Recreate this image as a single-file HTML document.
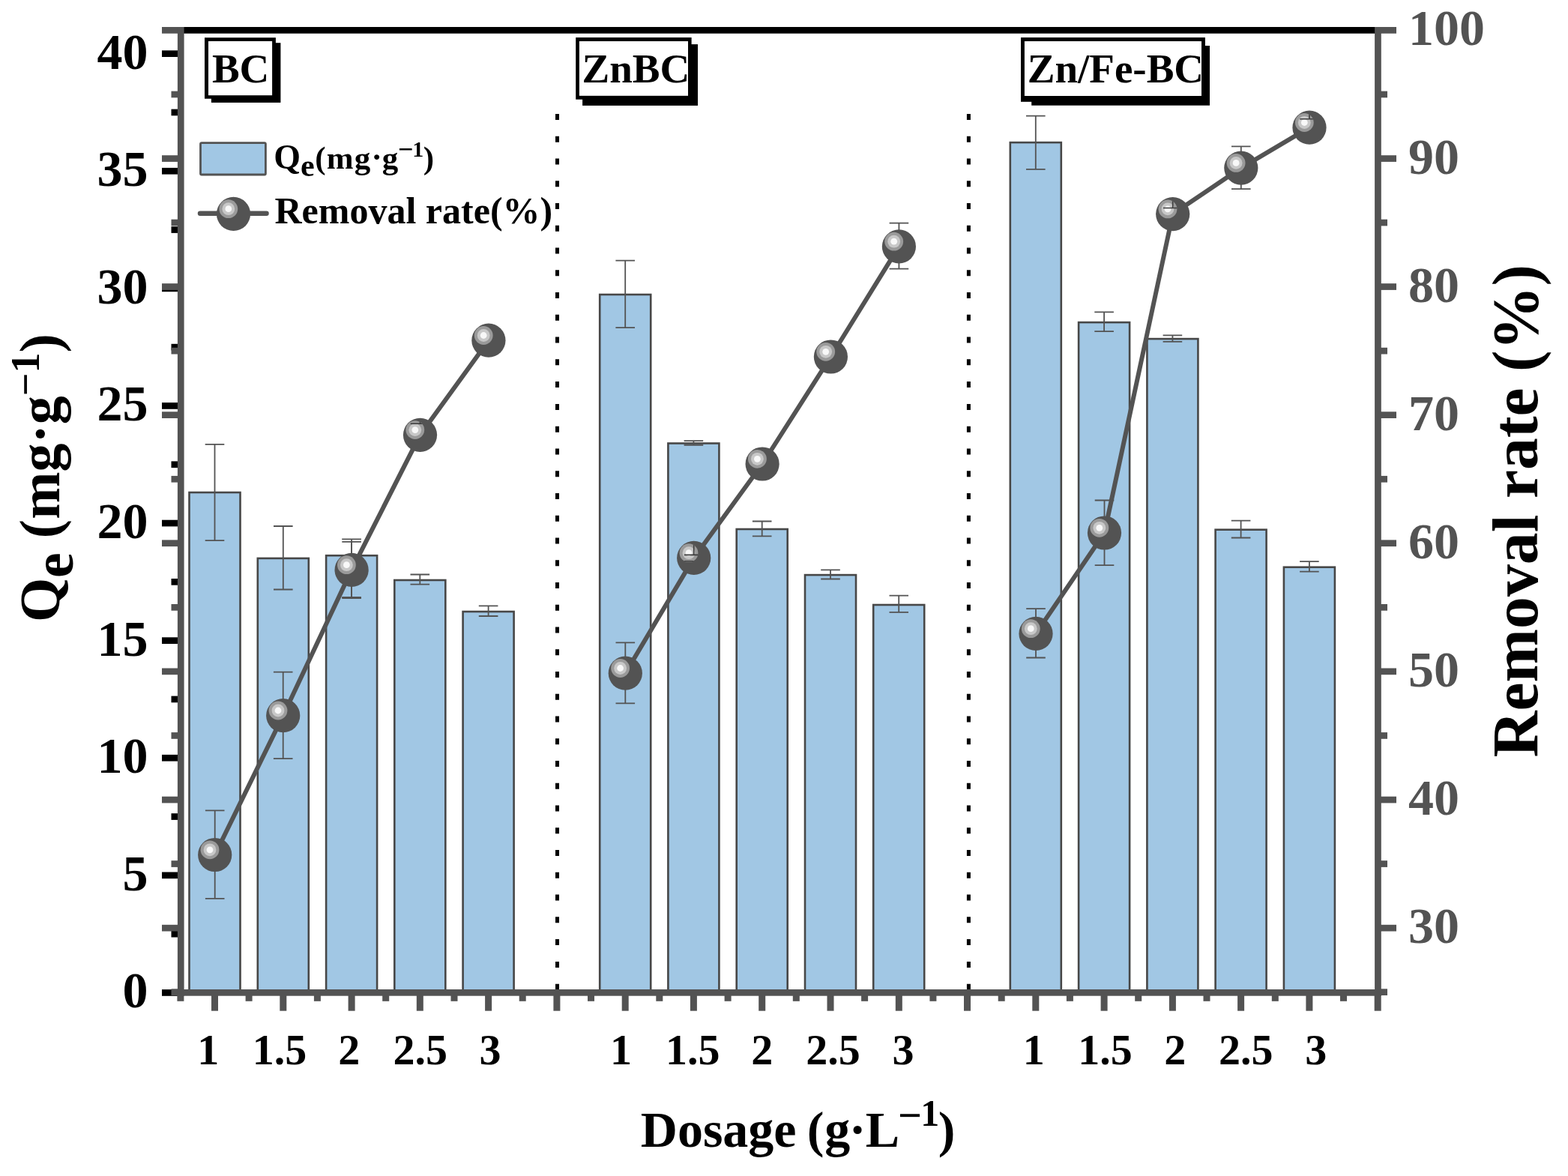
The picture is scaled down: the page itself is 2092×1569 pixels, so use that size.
<!DOCTYPE html>
<html><head><meta charset="utf-8"><title>Qe and removal rate vs dosage</title>
<style>html,body{margin:0;padding:0;background:#fff;}svg{display:block;}</style>
</head><body>
<svg width="2092" height="1569" viewBox="0 0 2092 1569">
<rect width="2092" height="1569" fill="#fff"/>
<rect x="252.5" y="657.0" width="68.0" height="667.0" fill="#A1C7E4" stroke="#474747" stroke-width="2.6"/>
<rect x="343.8" y="744.9" width="68.0" height="579.1" fill="#A1C7E4" stroke="#474747" stroke-width="2.6"/>
<rect x="435.1" y="741.2" width="68.0" height="582.8" fill="#A1C7E4" stroke="#474747" stroke-width="2.6"/>
<rect x="526.3" y="774.0" width="68.0" height="550.0" fill="#A1C7E4" stroke="#474747" stroke-width="2.6"/>
<rect x="617.6" y="816.0" width="68.0" height="508.0" fill="#A1C7E4" stroke="#474747" stroke-width="2.6"/>
<rect x="800.2" y="393.0" width="68.0" height="931.0" fill="#A1C7E4" stroke="#474747" stroke-width="2.6"/>
<rect x="891.4" y="591.5" width="68.0" height="732.5" fill="#A1C7E4" stroke="#474747" stroke-width="2.6"/>
<rect x="982.7" y="706.0" width="68.0" height="618.0" fill="#A1C7E4" stroke="#474747" stroke-width="2.6"/>
<rect x="1074.0" y="767.1" width="68.0" height="556.9" fill="#A1C7E4" stroke="#474747" stroke-width="2.6"/>
<rect x="1165.2" y="807.0" width="68.0" height="517.0" fill="#A1C7E4" stroke="#474747" stroke-width="2.6"/>
<rect x="1347.8" y="190.1" width="68.0" height="1133.9" fill="#A1C7E4" stroke="#474747" stroke-width="2.6"/>
<rect x="1439.1" y="430.1" width="68.0" height="893.9" fill="#A1C7E4" stroke="#474747" stroke-width="2.6"/>
<rect x="1530.4" y="452.1" width="68.0" height="871.9" fill="#A1C7E4" stroke="#474747" stroke-width="2.6"/>
<rect x="1621.6" y="706.7" width="68.0" height="617.3" fill="#A1C7E4" stroke="#474747" stroke-width="2.6"/>
<rect x="1712.9" y="756.7" width="68.0" height="567.3" fill="#A1C7E4" stroke="#474747" stroke-width="2.6"/>
<path d="M273.7 592.8H299.3M286.5 592.8V721.1M273.7 721.1H299.3" stroke="#535353" stroke-width="1.8" fill="none"/>
<path d="M365.0 702.0H390.6M377.8 702.0V786.5M365.0 786.5H390.6" stroke="#535353" stroke-width="1.8" fill="none"/>
<path d="M456.2 719.3H481.9M469.1 719.3V797.0M456.2 797.0H481.9" stroke="#535353" stroke-width="1.8" fill="none"/>
<path d="M547.5 766.5H573.1M560.3 766.5V779.6M547.5 779.6H573.1" stroke="#535353" stroke-width="1.8" fill="none"/>
<path d="M638.8 808.3H664.4M651.6 808.3V822.0M638.8 822.0H664.4" stroke="#535353" stroke-width="1.8" fill="none"/>
<path d="M821.4 347.7H847.0M834.2 347.7V437.2M821.4 437.2H847.0" stroke="#535353" stroke-width="1.8" fill="none"/>
<path d="M912.6 588.2H938.2M925.4 588.2V593.9M912.6 593.9H938.2" stroke="#535353" stroke-width="1.8" fill="none"/>
<path d="M1003.9 695.5H1029.5M1016.7 695.5V715.4M1003.9 715.4H1029.5" stroke="#535353" stroke-width="1.8" fill="none"/>
<path d="M1095.2 760.4H1120.8M1108.0 760.4V772.5M1095.2 772.5H1120.8" stroke="#535353" stroke-width="1.8" fill="none"/>
<path d="M1186.5 794.6H1212.0M1199.2 794.6V816.9M1186.5 816.9H1212.0" stroke="#535353" stroke-width="1.8" fill="none"/>
<path d="M1369.0 154.6H1394.6M1381.8 154.6V225.9M1369.0 225.9H1394.6" stroke="#535353" stroke-width="1.8" fill="none"/>
<path d="M1460.3 416.4H1485.9M1473.1 416.4V442.1M1460.3 442.1H1485.9" stroke="#535353" stroke-width="1.8" fill="none"/>
<path d="M1551.6 447.3H1577.2M1564.4 447.3V455.8M1551.6 455.8H1577.2" stroke="#535353" stroke-width="1.8" fill="none"/>
<path d="M1642.8 694.6H1668.4M1655.6 694.6V717.5M1642.8 717.5H1668.4" stroke="#535353" stroke-width="1.8" fill="none"/>
<path d="M1734.1 749.2H1759.7M1746.9 749.2V762.7M1734.1 762.7H1759.7" stroke="#535353" stroke-width="1.8" fill="none"/>
<line x1="743.5" y1="152" x2="743.5" y2="1322" stroke="#000" stroke-width="5" stroke-dasharray="8 21.76"/>
<line x1="1292.4" y1="152" x2="1292.4" y2="1322" stroke="#000" stroke-width="5" stroke-dasharray="8 21.76"/>
<path d="M273.9 1081.4H299.5M286.7 1081.4V1198.9M273.9 1198.9H299.5" stroke="#535353" stroke-width="1.8" fill="none"/>
<path d="M364.9 896.7H390.5M377.7 896.7V1012.1M364.9 1012.1H390.5" stroke="#535353" stroke-width="1.8" fill="none"/>
<path d="M456.3 722.8H481.9M469.1 722.8V798.0M456.3 798.0H481.9" stroke="#535353" stroke-width="1.8" fill="none"/>
<path d="M821.5 857.3H847.1M834.3 857.3V938.4M821.5 938.4H847.1" stroke="#535353" stroke-width="1.8" fill="none"/>
<path d="M1186.6 297.7H1212.2M1199.4 297.7V358.7M1186.6 358.7H1212.2" stroke="#535353" stroke-width="1.8" fill="none"/>
<path d="M1369.2 812.1H1394.8M1382.0 812.1V877.5M1369.2 877.5H1394.8" stroke="#535353" stroke-width="1.8" fill="none"/>
<path d="M1460.7 667.5H1486.3M1473.5 667.5V754.2M1460.7 754.2H1486.3" stroke="#535353" stroke-width="1.8" fill="none"/>
<path d="M1643.0 195.4H1668.6M1655.8 195.4V252.1M1643.0 252.1H1668.6" stroke="#535353" stroke-width="1.8" fill="none"/>
<path d="M286.7 1140.5 L377.7 954.7 L469.1 760.4 L560.5 580.3 L651.9 454.2" stroke="#535353" stroke-width="6" fill="none" stroke-linejoin="round"/>
<path d="M834.3 898.2 L925.7 744.4 L1017.1 619 L1108.4 476 L1199.4 328.9" stroke="#535353" stroke-width="6" fill="none" stroke-linejoin="round"/>
<path d="M1382 845.4 L1473.5 711 L1564.7 285.6 L1655.8 224.1 L1747 170.2" stroke="#535353" stroke-width="6" fill="none" stroke-linejoin="round"/>
<circle cx="286.7" cy="1140.5" r="22.6" fill="#535353"/><circle cx="280.0" cy="1133.8" r="12.4" fill="#9a9a9a"/><circle cx="280.0" cy="1133.8" r="8.4" fill="#c8c8c8"/><circle cx="280.0" cy="1133.8" r="4.4" fill="#f8f8f8"/>
<circle cx="377.7" cy="954.7" r="22.6" fill="#535353"/><circle cx="371.0" cy="948.0" r="12.4" fill="#9a9a9a"/><circle cx="371.0" cy="948.0" r="8.4" fill="#c8c8c8"/><circle cx="371.0" cy="948.0" r="4.4" fill="#f8f8f8"/>
<circle cx="469.1" cy="760.4" r="22.6" fill="#535353"/><circle cx="462.4" cy="753.7" r="12.4" fill="#9a9a9a"/><circle cx="462.4" cy="753.7" r="8.4" fill="#c8c8c8"/><circle cx="462.4" cy="753.7" r="4.4" fill="#f8f8f8"/>
<circle cx="560.5" cy="580.3" r="22.6" fill="#535353"/><circle cx="553.8" cy="573.6" r="12.4" fill="#9a9a9a"/><circle cx="553.8" cy="573.6" r="8.4" fill="#c8c8c8"/><circle cx="553.8" cy="573.6" r="4.4" fill="#f8f8f8"/>
<circle cx="651.9" cy="454.2" r="22.6" fill="#535353"/><circle cx="645.2" cy="447.5" r="12.4" fill="#9a9a9a"/><circle cx="645.2" cy="447.5" r="8.4" fill="#c8c8c8"/><circle cx="645.2" cy="447.5" r="4.4" fill="#f8f8f8"/>
<circle cx="834.3" cy="898.2" r="22.6" fill="#535353"/><circle cx="827.6" cy="891.5" r="12.4" fill="#9a9a9a"/><circle cx="827.6" cy="891.5" r="8.4" fill="#c8c8c8"/><circle cx="827.6" cy="891.5" r="4.4" fill="#f8f8f8"/>
<circle cx="925.7" cy="744.4" r="22.6" fill="#535353"/><circle cx="919.0" cy="737.7" r="12.4" fill="#9a9a9a"/><circle cx="919.0" cy="737.7" r="8.4" fill="#c8c8c8"/><circle cx="919.0" cy="737.7" r="4.4" fill="#f8f8f8"/>
<circle cx="1017.1" cy="619" r="22.6" fill="#535353"/><circle cx="1010.4" cy="612.3" r="12.4" fill="#9a9a9a"/><circle cx="1010.4" cy="612.3" r="8.4" fill="#c8c8c8"/><circle cx="1010.4" cy="612.3" r="4.4" fill="#f8f8f8"/>
<circle cx="1108.4" cy="476" r="22.6" fill="#535353"/><circle cx="1101.7" cy="469.3" r="12.4" fill="#9a9a9a"/><circle cx="1101.7" cy="469.3" r="8.4" fill="#c8c8c8"/><circle cx="1101.7" cy="469.3" r="4.4" fill="#f8f8f8"/>
<circle cx="1199.4" cy="328.9" r="22.6" fill="#535353"/><circle cx="1192.7" cy="322.2" r="12.4" fill="#9a9a9a"/><circle cx="1192.7" cy="322.2" r="8.4" fill="#c8c8c8"/><circle cx="1192.7" cy="322.2" r="4.4" fill="#f8f8f8"/>
<circle cx="1382" cy="845.4" r="22.6" fill="#535353"/><circle cx="1375.3" cy="838.7" r="12.4" fill="#9a9a9a"/><circle cx="1375.3" cy="838.7" r="8.4" fill="#c8c8c8"/><circle cx="1375.3" cy="838.7" r="4.4" fill="#f8f8f8"/>
<circle cx="1473.5" cy="711" r="22.6" fill="#535353"/><circle cx="1466.8" cy="704.3" r="12.4" fill="#9a9a9a"/><circle cx="1466.8" cy="704.3" r="8.4" fill="#c8c8c8"/><circle cx="1466.8" cy="704.3" r="4.4" fill="#f8f8f8"/>
<circle cx="1564.7" cy="285.6" r="22.6" fill="#535353"/><circle cx="1558.0" cy="278.9" r="12.4" fill="#9a9a9a"/><circle cx="1558.0" cy="278.9" r="8.4" fill="#c8c8c8"/><circle cx="1558.0" cy="278.9" r="4.4" fill="#f8f8f8"/>
<circle cx="1655.8" cy="224.1" r="22.6" fill="#535353"/><circle cx="1649.1" cy="217.4" r="12.4" fill="#9a9a9a"/><circle cx="1649.1" cy="217.4" r="8.4" fill="#c8c8c8"/><circle cx="1649.1" cy="217.4" r="4.4" fill="#f8f8f8"/>
<circle cx="1747" cy="170.2" r="22.6" fill="#535353"/><circle cx="1740.3" cy="163.5" r="12.4" fill="#9a9a9a"/><circle cx="1740.3" cy="163.5" r="8.4" fill="#c8c8c8"/><circle cx="1740.3" cy="163.5" r="4.4" fill="#f8f8f8"/>
<defs><clipPath id="hl0"><circle cx="553.8" cy="573.6" r="12.4"/></clipPath><clipPath id="hl1"><circle cx="919.0" cy="737.7" r="12.4"/></clipPath><clipPath id="hl2"><circle cx="1558.0" cy="278.9" r="12.4"/></clipPath><clipPath id="hl3"><circle cx="1740.3" cy="163.5" r="12.4"/></clipPath></defs>
<path d="M547.7 565.2H573.3M560.5 565.2V560.6" stroke="#3c3c3c" stroke-width="1.6" fill="none" clip-path="url(#hl0)"/>
<path d="M912.9 740.4H938.5M925.7 740.4V724.7M912.9 748.8H938.5" stroke="#3c3c3c" stroke-width="1.6" fill="none" clip-path="url(#hl1)"/>
<path d="M1551.9 277.5H1577.5M1564.7 277.5V265.9" stroke="#3c3c3c" stroke-width="1.6" fill="none" clip-path="url(#hl2)"/>
<path d="M1734.2 158.8H1759.8M1747 158.8V150.5" stroke="#3c3c3c" stroke-width="1.6" fill="none" clip-path="url(#hl3)"/>
<rect x="216" y="1320.1" width="22" height="8.7" fill="#000"/>
<rect x="216" y="1163.5" width="22" height="8.7" fill="#000"/>
<rect x="216" y="1006.9" width="22" height="8.7" fill="#000"/>
<rect x="216" y="850.3" width="22" height="8.7" fill="#000"/>
<rect x="216" y="693.7" width="22" height="8.7" fill="#000"/>
<rect x="216" y="537.1" width="22" height="8.7" fill="#000"/>
<rect x="216" y="380.5" width="22" height="8.7" fill="#000"/>
<rect x="216" y="223.9" width="22" height="8.7" fill="#000"/>
<rect x="216" y="67.3" width="22" height="8.7" fill="#000"/>
<rect x="228.5" y="1241.8" width="9.5" height="8.7" fill="#000"/>
<rect x="228.5" y="1085.2" width="9.5" height="8.7" fill="#000"/>
<rect x="228.5" y="928.6" width="9.5" height="8.7" fill="#000"/>
<rect x="228.5" y="772.0" width="9.5" height="8.7" fill="#000"/>
<rect x="228.5" y="615.4" width="9.5" height="8.7" fill="#000"/>
<rect x="228.5" y="458.8" width="9.5" height="8.7" fill="#000"/>
<rect x="228.5" y="302.2" width="9.5" height="8.7" fill="#000"/>
<rect x="228.5" y="145.6" width="9.5" height="8.7" fill="#000"/>
<rect x="216" y="1233.8" width="22" height="8.7" fill="#535353"/>
<rect x="1842" y="1233.8" width="21" height="8.7" fill="#535353"/>
<rect x="216" y="1062.7" width="22" height="8.7" fill="#535353"/>
<rect x="1842" y="1062.7" width="21" height="8.7" fill="#535353"/>
<rect x="216" y="891.5" width="22" height="8.7" fill="#535353"/>
<rect x="1842" y="891.5" width="21" height="8.7" fill="#535353"/>
<rect x="216" y="720.4" width="22" height="8.7" fill="#535353"/>
<rect x="1842" y="720.4" width="21" height="8.7" fill="#535353"/>
<rect x="216" y="549.3" width="22" height="8.7" fill="#535353"/>
<rect x="1842" y="549.3" width="21" height="8.7" fill="#535353"/>
<rect x="216" y="378.2" width="22" height="8.7" fill="#535353"/>
<rect x="1842" y="378.2" width="21" height="8.7" fill="#535353"/>
<rect x="216" y="207.2" width="22" height="8.7" fill="#535353"/>
<rect x="1842" y="207.2" width="21" height="8.7" fill="#535353"/>
<rect x="216" y="36.0" width="22" height="8.7" fill="#535353"/>
<rect x="1842" y="36.0" width="21" height="8.7" fill="#535353"/>
<rect x="228.5" y="1319.3" width="9.5" height="8.7" fill="#535353"/>
<rect x="1842" y="1319.3" width="9" height="8.7" fill="#535353"/>
<rect x="228.5" y="1148.2" width="9.5" height="8.7" fill="#535353"/>
<rect x="1842" y="1148.2" width="9" height="8.7" fill="#535353"/>
<rect x="228.5" y="977.1" width="9.5" height="8.7" fill="#535353"/>
<rect x="1842" y="977.1" width="9" height="8.7" fill="#535353"/>
<rect x="228.5" y="806.0" width="9.5" height="8.7" fill="#535353"/>
<rect x="1842" y="806.0" width="9" height="8.7" fill="#535353"/>
<rect x="228.5" y="634.9" width="9.5" height="8.7" fill="#535353"/>
<rect x="1842" y="634.9" width="9" height="8.7" fill="#535353"/>
<rect x="228.5" y="463.8" width="9.5" height="8.7" fill="#535353"/>
<rect x="1842" y="463.8" width="9" height="8.7" fill="#535353"/>
<rect x="228.5" y="292.7" width="9.5" height="8.7" fill="#535353"/>
<rect x="1842" y="292.7" width="9" height="8.7" fill="#535353"/>
<rect x="228.5" y="121.6" width="9.5" height="8.7" fill="#535353"/>
<rect x="1842" y="121.6" width="9" height="8.7" fill="#535353"/>
<rect x="245" y="36" width="1590" height="8.7" fill="#000"/>
<rect x="236.9" y="36" width="8.7" height="1293" fill="#535353"/>
<rect x="1834.1" y="36" width="8.7" height="1293" fill="#535353"/>
<rect x="236.9" y="1320" width="1605.9" height="8.7" fill="#535353"/>
<rect x="282.0" y="1328" width="9" height="20.7" fill="#535353"/>
<rect x="373.3" y="1328" width="9" height="20.7" fill="#535353"/>
<rect x="464.6" y="1328" width="9" height="20.7" fill="#535353"/>
<rect x="555.8" y="1328" width="9" height="20.7" fill="#535353"/>
<rect x="647.1" y="1328" width="9" height="20.7" fill="#535353"/>
<rect x="738.4" y="1328" width="9" height="20.7" fill="#535353"/>
<rect x="829.7" y="1328" width="9" height="20.7" fill="#535353"/>
<rect x="920.9" y="1328" width="9" height="20.7" fill="#535353"/>
<rect x="1012.2" y="1328" width="9" height="20.7" fill="#535353"/>
<rect x="1103.5" y="1328" width="9" height="20.7" fill="#535353"/>
<rect x="1194.8" y="1328" width="9" height="20.7" fill="#535353"/>
<rect x="1286.0" y="1328" width="9" height="20.7" fill="#535353"/>
<rect x="1377.3" y="1328" width="9" height="20.7" fill="#535353"/>
<rect x="1468.6" y="1328" width="9" height="20.7" fill="#535353"/>
<rect x="1559.9" y="1328" width="9" height="20.7" fill="#535353"/>
<rect x="1651.1" y="1328" width="9" height="20.7" fill="#535353"/>
<rect x="1742.4" y="1328" width="9" height="20.7" fill="#535353"/>
<rect x="1833.7" y="1328" width="9" height="20.7" fill="#535353"/>
<rect x="236.4" y="1328" width="9" height="7.8" fill="#535353"/>
<rect x="327.6" y="1328" width="9" height="7.8" fill="#535353"/>
<rect x="418.9" y="1328" width="9" height="7.8" fill="#535353"/>
<rect x="510.2" y="1328" width="9" height="7.8" fill="#535353"/>
<rect x="601.5" y="1328" width="9" height="7.8" fill="#535353"/>
<rect x="692.7" y="1328" width="9" height="7.8" fill="#535353"/>
<rect x="784.0" y="1328" width="9" height="7.8" fill="#535353"/>
<rect x="875.3" y="1328" width="9" height="7.8" fill="#535353"/>
<rect x="966.6" y="1328" width="9" height="7.8" fill="#535353"/>
<rect x="1057.8" y="1328" width="9" height="7.8" fill="#535353"/>
<rect x="1149.1" y="1328" width="9" height="7.8" fill="#535353"/>
<rect x="1240.4" y="1328" width="9" height="7.8" fill="#535353"/>
<rect x="1331.7" y="1328" width="9" height="7.8" fill="#535353"/>
<rect x="1422.9" y="1328" width="9" height="7.8" fill="#535353"/>
<rect x="1514.2" y="1328" width="9" height="7.8" fill="#535353"/>
<rect x="1605.5" y="1328" width="9" height="7.8" fill="#535353"/>
<rect x="1696.8" y="1328" width="9" height="7.8" fill="#535353"/>
<rect x="1788.0" y="1328" width="9" height="7.8" fill="#535353"/>
<text x="197.5" y="1344.4" font-family="'Liberation Serif', 'Times New Roman', serif" font-weight="bold" font-size="68" text-anchor="end" fill="#000">0</text>
<text x="197.5" y="1187.8" font-family="'Liberation Serif', 'Times New Roman', serif" font-weight="bold" font-size="68" text-anchor="end" fill="#000">5</text>
<text x="197.5" y="1031.2" font-family="'Liberation Serif', 'Times New Roman', serif" font-weight="bold" font-size="68" text-anchor="end" fill="#000">10</text>
<text x="197.5" y="874.6" font-family="'Liberation Serif', 'Times New Roman', serif" font-weight="bold" font-size="68" text-anchor="end" fill="#000">15</text>
<text x="197.5" y="718.0" font-family="'Liberation Serif', 'Times New Roman', serif" font-weight="bold" font-size="68" text-anchor="end" fill="#000">20</text>
<text x="197.5" y="561.4" font-family="'Liberation Serif', 'Times New Roman', serif" font-weight="bold" font-size="68" text-anchor="end" fill="#000">25</text>
<text x="197.5" y="404.8" font-family="'Liberation Serif', 'Times New Roman', serif" font-weight="bold" font-size="68" text-anchor="end" fill="#000">30</text>
<text x="197.5" y="248.2" font-family="'Liberation Serif', 'Times New Roman', serif" font-weight="bold" font-size="68" text-anchor="end" fill="#000">35</text>
<text x="197.5" y="91.6" font-family="'Liberation Serif', 'Times New Roman', serif" font-weight="bold" font-size="68" text-anchor="end" fill="#000">40</text>
<text x="1879" y="1258.1" font-family="'Liberation Serif', 'Times New Roman', serif" font-weight="bold" font-size="68" fill="#535353">30</text>
<text x="1879" y="1087.0" font-family="'Liberation Serif', 'Times New Roman', serif" font-weight="bold" font-size="68" fill="#535353">40</text>
<text x="1879" y="915.9" font-family="'Liberation Serif', 'Times New Roman', serif" font-weight="bold" font-size="68" fill="#535353">50</text>
<text x="1879" y="744.8" font-family="'Liberation Serif', 'Times New Roman', serif" font-weight="bold" font-size="68" fill="#535353">60</text>
<text x="1879" y="573.7" font-family="'Liberation Serif', 'Times New Roman', serif" font-weight="bold" font-size="68" fill="#535353">70</text>
<text x="1879" y="402.6" font-family="'Liberation Serif', 'Times New Roman', serif" font-weight="bold" font-size="68" fill="#535353">80</text>
<text x="1879" y="231.5" font-family="'Liberation Serif', 'Times New Roman', serif" font-weight="bold" font-size="68" fill="#535353">90</text>
<text x="1879" y="60.4" font-family="'Liberation Serif', 'Times New Roman', serif" font-weight="bold" font-size="68" fill="#535353">100</text>
<text x="277.8" y="1419.7" font-family="'Liberation Serif', 'Times New Roman', serif" font-weight="bold" font-size="58" text-anchor="middle" fill="#000">1</text>
<text x="372.9" y="1419.7" font-family="'Liberation Serif', 'Times New Roman', serif" font-weight="bold" font-size="58" text-anchor="middle" fill="#000">1.5</text>
<text x="465.7" y="1419.7" font-family="'Liberation Serif', 'Times New Roman', serif" font-weight="bold" font-size="58" text-anchor="middle" fill="#000">2</text>
<text x="560.8" y="1419.7" font-family="'Liberation Serif', 'Times New Roman', serif" font-weight="bold" font-size="58" text-anchor="middle" fill="#000">2.5</text>
<text x="653.9" y="1419.7" font-family="'Liberation Serif', 'Times New Roman', serif" font-weight="bold" font-size="58" text-anchor="middle" fill="#000">3</text>
<text x="828.6" y="1419.7" font-family="'Liberation Serif', 'Times New Roman', serif" font-weight="bold" font-size="58" text-anchor="middle" fill="#000">1</text>
<text x="924.2" y="1419.7" font-family="'Liberation Serif', 'Times New Roman', serif" font-weight="bold" font-size="58" text-anchor="middle" fill="#000">1.5</text>
<text x="1016.7" y="1419.7" font-family="'Liberation Serif', 'Times New Roman', serif" font-weight="bold" font-size="58" text-anchor="middle" fill="#000">2</text>
<text x="1111.5" y="1419.7" font-family="'Liberation Serif', 'Times New Roman', serif" font-weight="bold" font-size="58" text-anchor="middle" fill="#000">2.5</text>
<text x="1205" y="1419.7" font-family="'Liberation Serif', 'Times New Roman', serif" font-weight="bold" font-size="58" text-anchor="middle" fill="#000">3</text>
<text x="1379.2" y="1419.7" font-family="'Liberation Serif', 'Times New Roman', serif" font-weight="bold" font-size="58" text-anchor="middle" fill="#000">1</text>
<text x="1474.6" y="1419.7" font-family="'Liberation Serif', 'Times New Roman', serif" font-weight="bold" font-size="58" text-anchor="middle" fill="#000">1.5</text>
<text x="1567.8" y="1419.7" font-family="'Liberation Serif', 'Times New Roman', serif" font-weight="bold" font-size="58" text-anchor="middle" fill="#000">2</text>
<text x="1662.3" y="1419.7" font-family="'Liberation Serif', 'Times New Roman', serif" font-weight="bold" font-size="58" text-anchor="middle" fill="#000">2.5</text>
<text x="1755.8" y="1419.7" font-family="'Liberation Serif', 'Times New Roman', serif" font-weight="bold" font-size="58" text-anchor="middle" fill="#000">3</text>
<text font-family="'Liberation Serif', 'Times New Roman', serif" font-weight="bold" fill="#000" font-size="68"><tspan x="854.8" y="1529.9">Dosage </tspan><tspan x="1076.8" y="1529.9">(</tspan><tspan x="1100.2" y="1529.9">g</tspan><tspan x="1132.7" y="1529.9">·</tspan><tspan x="1154.8" y="1529.9">L</tspan><tspan x="1198" y="1506.6" font-size="56">−</tspan><tspan x="1228.2" y="1501.7" font-size="50">1</tspan><tspan x="1251.7" y="1529.9">)</tspan></text>
<text transform="translate(78.8 830) rotate(-90)" font-family="'Liberation Serif', 'Times New Roman', serif" font-weight="bold" font-size="76" fill="#000">Q<tspan dy="18.5">e</tspan><tspan dy="-18.5"> (mg·g</tspan><tspan font-size="54" dy="-26.6">−1</tspan><tspan dy="26.6">)</tspan></text>
<text transform="translate(2051 1010.5) rotate(-90)" font-family="'Liberation Serif', 'Times New Roman', serif" font-weight="bold" font-size="85.8" fill="#000">Removal rate (%)</text>
<rect x="267.5" y="190.7" width="86.9" height="42.3" rx="1.5" fill="#A1C7E4" stroke="#535353" stroke-width="2.8"/>
<text font-family="'Liberation Serif', 'Times New Roman', serif" font-weight="bold" fill="#000" font-size="43"><tspan x="365.25" y="224.7" font-size="46">Q</tspan><tspan x="400.9" y="235.1" font-size="42">e</tspan><tspan x="420.2" y="224.6">(</tspan><tspan x="435.85" y="224.7">m</tspan><tspan x="472.7" y="224.7">g</tspan><tspan x="495.4" y="224.2">·</tspan><tspan x="509.7" y="224.7">g</tspan><tspan x="530.9" y="211.1" font-size="36">−</tspan><tspan x="550.2" y="209.1" font-size="30">1</tspan><tspan x="564.7" y="224.6">)</tspan></text>
<line x1="267" y1="284.8" x2="355.5" y2="284.8" stroke="#535353" stroke-width="6.5" stroke-linecap="round"/>
<circle cx="311.5" cy="285.4" r="22.6" fill="#535353"/><circle cx="304.8" cy="278.7" r="12.4" fill="#9a9a9a"/><circle cx="304.8" cy="278.7" r="8.4" fill="#c8c8c8"/><circle cx="304.8" cy="278.7" r="4.4" fill="#f8f8f8"/>
<text x="366.5" y="297.8" font-family="'Liberation Serif', 'Times New Roman', serif" font-weight="bold" font-size="50" fill="#000">Removal rate(%)</text>
<rect x="281.9" y="57.2" width="92.5" height="79.7" fill="#000"/><rect x="273" y="50.2" width="94.9" height="81.5" fill="#000"/><rect x="278" y="54.9" width="85.1" height="72.3" fill="#fff"/><text x="282.9" y="109.6" font-family="'Liberation Serif', 'Times New Roman', serif" font-weight="bold" font-size="55" fill="#000">BC</text>
<rect x="777.1" y="59.1" width="153.9" height="81.8" fill="#000"/><rect x="768.2" y="50" width="154.4" height="82.7" fill="#000"/><rect x="772.9" y="55" width="145.1" height="72.8" fill="#fff"/><text x="776.6" y="110.3" font-family="'Liberation Serif', 'Times New Roman', serif" font-weight="bold" font-size="55" fill="#000">ZnBC</text>
<rect x="1376.2" y="61" width="237.8" height="79.7" fill="#000"/><rect x="1362" y="50" width="245.9" height="85.8" fill="#000"/><rect x="1366.9" y="55" width="236.1" height="73.0" fill="#fff"/><text x="1370.8" y="110.3" font-family="'Liberation Serif', 'Times New Roman', serif" font-weight="bold" font-size="55" fill="#000">Zn/Fe-BC</text>
</svg>
</body></html>
